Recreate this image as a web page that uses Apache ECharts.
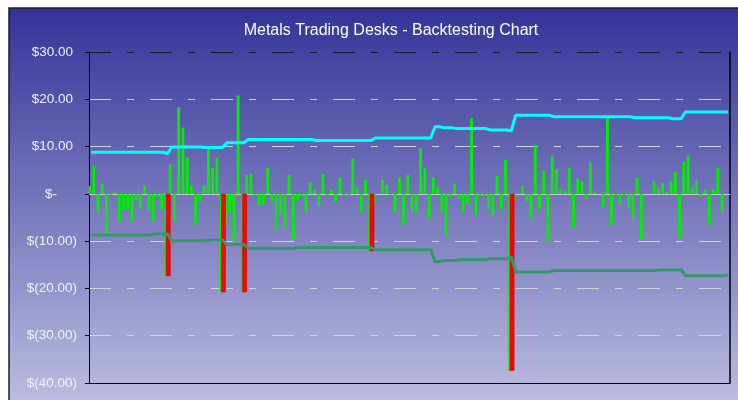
<!DOCTYPE html>
<html>
<head>
<meta charset="utf-8">
<title>Metals Trading Desks - Backtesting Chart</title>
<script src="https://cdn.jsdelivr.net/npm/echarts@6/dist/echarts.min.js"></script>
<style>
  html, body { margin: 0; padding: 0; background: #ffffff; }
  #chart { width: 738px; height: 400px; }
</style>
</head>
<body>
<div id="chart"></div>
<script>
// Daily desk P&L (in $), one value per trading day
const pnl = [
  1.7, 6.0, -3.8, 2.1, -8.5, -0.2, 0.4, -5.9, -3.5, -3.3,
  -5.9, -1.4, -3.1, 1.7, -3.5, -5.9, -0.6, -3.3, -17.4, 6.2,
  -5.7, 18.3, 14.0, 7.7, 1.7, -6.5, -1.6, 1.7, 9.5, 5.5,
  7.7, -20.8, -6.6, -3.8, -10.1, 20.8, -20.8, 4.0, 4.3, -0.2,
  -2.4, -2.2, 5.5, -1.6, -7.7, -4.4, -7.2, 4.0, -9.6, -1.4,
  -0.6, -3.7, 2.5, 1.0, -2.6, 4.2, -0.3, 1.0, -1.6, 3.4,
  -0.2, -0.3, 7.5, 1.3, -3.8, 2.9, -12.1, -2.2, 0, 2.9,
  1.9, -0.2, -3.7, 3.5, -6.5, 4.0, -3.7, -4.1, 9.7, 5.4,
  -5.3, 3.5, 1.4, -3.7, -8.9, -0.7, 2.1, -1.1, -3.9, -2.0,
  16.0, -4.4, -0.5, -0.5, -3.3, -4.6, 3.8, -3.3, 7.2, -37.4,
  -1.1, 0, 1.7, -1.6, -5.2, 10.4, -3.1, 4.9, -10.1, 8.1,
  5.3, 1.1, 0.6, 5.5, -7.1, 3.2, 2.6, -1.0, 6.6, 0.4,
  0, -2.7, 16.0, -6.7, -0.3, -2.0, -0.3, -3.1, -5.2, 3.5,
  -9.7, 0, 0, 2.8, 1.3, 2.3, 0.4, 2.6, 4.7, -9.2,
  6.8, 8.1, 1.3, 2.8, -0.6, 0.9, -6.5, 0.9, 5.5, -3.8,
  0
];

// Days on which the loss breached the VaR limit
const exceptionDays = [18, 31, 36, 66, 99];

// Upper VaR limit
const varUpper = [
  8.8, 8.8, 8.8, 8.8, 8.8, 8.8, 8.8, 8.8, 8.8, 8.8,
  8.8, 8.8, 8.8, 8.8, 8.8, 8.8, 8.8, 8.8, 8.5, 9.9,
  9.9, 9.9, 9.9, 9.9, 9.9, 9.9, 9.9, 9.8, 9.8, 9.8,
  9.8, 9.8, 10.8, 10.8, 10.8, 10.8, 10.8, 11.5, 11.5, 11.5,
  11.5, 11.5, 11.5, 11.5, 11.5, 11.5, 11.5, 11.5, 11.5, 11.5,
  11.5, 11.5, 11.5, 11.3, 11.3, 11.3, 11.3, 11.3, 11.3, 11.3,
  11.3, 11.3, 11.3, 11.3, 11.3, 11.3, 11.3, 11.8, 11.8, 11.8,
  11.8, 11.8, 11.8, 11.8, 11.8, 11.8, 11.8, 11.8, 11.8, 11.8,
  11.8, 14.2, 14.2, 14.0, 14.0, 14.0, 13.8, 13.8, 13.8, 13.8,
  13.8, 13.8, 13.8, 13.8, 13.5, 13.5, 13.5, 13.5, 13.5, 13.3,
  16.6, 16.6, 16.6, 16.6, 16.6, 16.6, 16.6, 16.6, 16.6, 16.3,
  16.3, 16.3, 16.3, 16.3, 16.3, 16.3, 16.3, 16.3, 16.3, 16.3,
  16.3, 16.3, 16.3, 16.3, 16.3, 16.3, 16.3, 16.3, 16.1, 16.1,
  16.1, 16.1, 16.1, 16.1, 16.1, 16.1, 16.1, 15.9, 15.9, 15.9,
  17.3, 17.3, 17.3, 17.3, 17.3, 17.3, 17.3, 17.3, 17.3, 17.3,
  17.3
];

// Lower VaR limit
const varLower = [
  -8.7, -8.7, -8.7, -8.7, -8.7, -8.7, -8.7, -8.7, -8.7, -8.7,
  -8.7, -8.7, -8.7, -8.7, -8.7, -8.5, -8.5, -8.5, -8.5, -9.9,
  -9.9, -9.9, -9.9, -9.9, -9.9, -9.9, -9.9, -9.8, -9.8, -9.8,
  -9.8, -9.8, -10.7, -10.7, -10.7, -10.7, -10.7, -11.5, -11.5, -11.5,
  -11.5, -11.5, -11.5, -11.5, -11.5, -11.5, -11.5, -11.5, -11.5, -11.35,
  -11.35, -11.35, -11.35, -11.35, -11.35, -11.35, -11.35, -11.35, -11.35, -11.35,
  -11.35, -11.35, -11.35, -11.35, -11.35, -11.35, -11.35, -11.8, -11.8, -11.8,
  -11.8, -11.8, -11.8, -11.8, -11.8, -11.8, -11.8, -11.8, -11.8, -11.8,
  -11.8, -14.3, -14.3, -14.1, -14.1, -14.1, -14.1, -13.9, -13.9, -13.9,
  -13.9, -13.9, -13.9, -13.9, -13.7, -13.7, -13.7, -13.7, -13.7, -13.3,
  -16.5, -16.5, -16.5, -16.5, -16.5, -16.5, -16.5, -16.5, -16.5, -16.2,
  -16.2, -16.2, -16.2, -16.2, -16.2, -16.2, -16.2, -16.2, -16.2, -16.2,
  -16.2, -16.2, -16.2, -16.2, -16.2, -16.2, -16.2, -16.2, -16.2, -16.2,
  -16.2, -16.2, -16.2, -16.2, -16.1, -16.1, -16.1, -16.1, -16.1, -16.1,
  -17.3, -17.3, -17.3, -17.3, -17.3, -17.3, -17.3, -17.3, -17.3, -17.3,
  -17.1
];

// Value axis ticks and their accounting-style labels
const yTickValues = [-40, -30, -20, -10, 0, 10, 20, 30];
const yTickLabels = ['$(40.00)', '$(30.00)', '$(20.00)', '$(10.00)', '$-', '$10.00', '$20.00', '$30.00'];

// Trading day categories
const days = pnl.map(function (_, i) { return 'Day ' + (i + 1); });

// Exception bars: the P&L on breach days only
const exceptionBars = pnl.map(function (v, i) {
  return exceptionDays.indexOf(i) >= 0 ? v : null;
});

const FONT = '"Liberation Sans", Arial, sans-serif';
const chart = echarts.init(document.getElementById('chart'), null, { renderer: 'canvas' });

chart.setOption({
  animation: false,
  backgroundColor: '#ffffff',
  graphic: [
    {
      type: 'rect',
      z: -10,
      silent: true,
      shape: { x: 9, y: 8, width: 740, height: 400 },
      style: {
        fill: new echarts.graphic.LinearGradient(0, 0, 0, 1, [
          { offset: 0, color: '#333399' },
          { offset: 1, color: '#BEBEE2' }
        ]),
        stroke: '#1c1c2c',
        lineWidth: 1.5
      }
    },
    {
      type: 'text',
      x: 391,
      y: 31,
      silent: true,
      style: {
        text: 'Metals Trading Desks - Backtesting Chart',
        fill: '#ffffff',
        font: '16px ' + FONT,
        align: 'center',
        verticalAlign: 'middle'
      }
    }
  ],
  grid: { left: 89, top: 52, right: 8, bottom: 17, containLabel: false },
  xAxis: [
    {
      type: 'category',
      data: days,
      position: 'top',
      axisLine: { onZero: true, lineStyle: { color: '#c9c9d6', width: 1 } },
      axisTick: { show: false },
      axisLabel: { show: false },
      splitLine: { show: false }
    },
    {
      type: 'category',
      data: days,
      position: 'bottom',
      axisLine: { onZero: false, lineStyle: { color: '#000000', width: 1 } },
      axisTick: { show: false },
      axisLabel: { show: false },
      splitLine: { show: false }
    }
  ],
  yAxis: [
    {
      type: 'value',
      position: 'left',
      min: -40,
      max: 30,
      interval: 10,
      axisLine: { show: true, lineStyle: { color: '#000000', width: 1 } },
      axisTick: { show: true, inside: false, length: 4, lineStyle: { color: '#000000' } },
      axisLabel: {
        margin: 12,
        formatter: function (val) {
          const idx = yTickValues.indexOf(val);
          const text = idx >= 0 ? yTickLabels[idx] : '';
          if (val > 0) return '{t|' + text + '}{p| }';
          if (val === 0) return '{t|' + text + '}{z| }';
          return '{t|' + text + '}';
        },
        rich: {
          t: { color: '#f2f2f8', fontSize: 13.5, fontFamily: FONT },
          p: { width: 4, fontSize: 13.5, fontFamily: FONT },
          z: { width: 20, fontSize: 13.5, fontFamily: FONT }
        }
      },
      splitLine: {
        show: true,
        lineStyle: {
          color: ['#000000', '#d2d2dc', '#d2d2dc', '#d2d2dc', 'rgba(0,0,0,0)', '#d2d2dc', '#d2d2dc', '#1a1a2a'],
          width: 1,
          type: [22, 16, 7, 16]
        }
      }
    },
    {
      type: 'value',
      position: 'right',
      min: -40,
      max: 30,
      interval: 10,
      axisLine: { show: true, lineStyle: { color: '#000000', width: 1.5 } },
      axisTick: { show: false },
      axisLabel: { show: false },
      splitLine: { show: false }
    }
  ],
  series: [
    {
      name: 'P&L',
      type: 'bar',
      xAxisIndex: 0,
      yAxisIndex: 0,
      data: pnl,
      barWidth: 2.8,
      barGap: '-50%',
      itemStyle: { color: '#00F000' },
      z: 2
    },
    {
      name: 'VaR Exception',
      type: 'bar',
      xAxisIndex: 0,
      yAxisIndex: 0,
      data: exceptionBars,
      barWidth: 4.6,
      barGap: '-50%',
      itemStyle: { color: '#FF0000', borderColor: '#D00000', borderWidth: 0.6 },
      z: 3
    },
    {
      name: 'VaR Upper',
      type: 'line',
      xAxisIndex: 0,
      yAxisIndex: 0,
      data: varUpper,
      symbol: 'none',
      smooth: false,
      lineStyle: { color: '#00FFFF', width: 3 },
      z: 4
    },
    {
      name: 'VaR Lower',
      type: 'line',
      xAxisIndex: 0,
      yAxisIndex: 0,
      data: varLower,
      symbol: 'none',
      smooth: false,
      lineStyle: { color: '#339966', width: 3 },
      z: 4
    }
  ]
});
</script>
</body>
</html>
